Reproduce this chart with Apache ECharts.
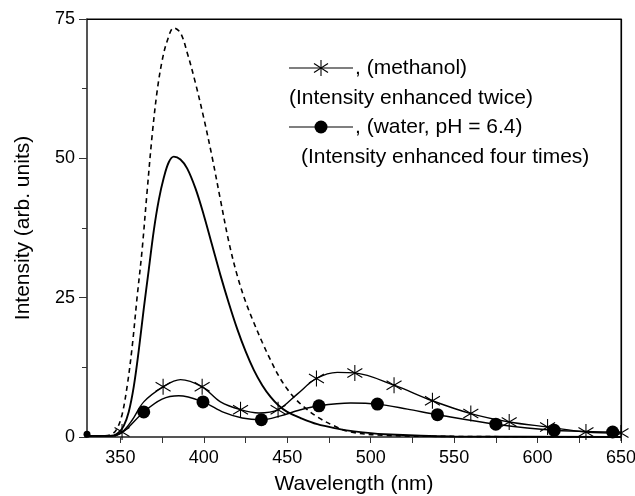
<!DOCTYPE html>
<html>
<head>
<meta charset="utf-8">
<script src="https://cdn.jsdelivr.net/npm/echarts@6/dist/echarts.min.js"></script>
<style>
html,body{margin:0;padding:0;background:#fff}
#main{width:635px;height:496px}
</style>
</head>
<body>
<div id="main"></div>
<script>
// emission spectra
var dashWl  = [330, 340, 345, 348, 351, 354, 357, 360, 363, 366, 369, 372, 375, 378, 382, 386, 390, 395, 400, 405, 410, 415, 420, 425, 430, 435, 440, 445, 450, 455, 460, 468, 478, 488, 508, 550, 650];
var dashVal = [0.2, 0.2, 0.5, 1.5, 4, 9, 16, 25, 33.5, 44, 54, 62, 67.5, 71, 73.4, 72.5, 69, 63.5, 57.2, 50.2, 42.5, 35, 29, 24.3, 20.5, 17, 13.8, 10.9, 8.6, 6.8, 5.4, 3.6, 2, 0.9, 0.3, 0.1, 0];

var solidWl  = [330, 340, 346, 349, 352, 355, 358, 361, 364, 367, 370, 373, 376, 379, 382, 386, 390, 395, 400, 405, 410, 415, 420, 425, 430, 435, 440, 445, 450, 458, 468, 480, 490, 508, 550, 650];
var solidVal = [0.2, 0.2, 0.3, 0.8, 2, 4.5, 9, 15.5, 23, 30, 37, 42.5, 46.5, 49.3, 50.3, 49.8, 48.2, 44.6, 39.8, 34.4, 29, 24, 19.4, 15.4, 12, 9.3, 7.2, 5.6, 4.5, 3.4, 2.3, 1.5, 1.0, 0.5, 0.1, 0];

// methanol (x2), line + star markers
var methWl  = [330, 345, 351, 357, 364, 375.6, 386, 399, 410, 422, 433, 444.5, 456, 467.5, 480, 490.5, 514, 537, 560, 583, 606, 629, 650];
var methVal = [0.2, 0.2, 0.9, 3, 6.3, 9.0, 10.3, 9.0, 6.3, 4.9, 4.3, 4.9, 7.7, 10.5, 11.6, 11.5, 9.3, 6.5, 4.2, 2.7, 1.8, 0.9, 0.7];
var methMkWl  = [351, 375.6, 399, 422, 444.5, 467.5, 490.5, 514, 537, 560, 583, 606, 629, 650];
var methMkVal = [0.9, 9.0, 9.0, 4.9, 4.9, 10.5, 11.5, 9.3, 6.5, 4.2, 2.7, 1.8, 0.9, 0.7];

// water pH 6.4 (x4), line + circle markers
var waterWl  = [330, 345, 352, 364, 375, 385, 399.5, 412, 423, 434.5, 446, 457, 469, 488, 504, 522, 540, 575, 610, 645, 650];
var waterVal = [0.2, 0.2, 1, 4.5, 6.8, 7.4, 6.3, 4.4, 3.4, 3.1, 3.8, 4.8, 5.6, 6.1, 5.9, 5, 4.0, 2.3, 1.2, 0.9, 0.85];
var waterMkWl  = [330, 364, 399.5, 434.5, 469, 504, 540, 575, 610, 645];
var waterMkVal = [0.5, 4.5, 6.3, 3.1, 5.6, 5.9, 4.0, 2.3, 1.2, 0.9];

var xTicks = [350, 375, 400, 425, 450, 475, 500, 525, 550, 575, 600, 625, 650];
var xLabels = [350, 400, 450, 500, 550, 600, 650];

function zip(a, b) {
    return a.map(function (v, i) { return [v, b[i]]; });
}

var FONT = 'Liberation Sans';
var star = 'path://M0,-8L0,8M-7,-4.5L7,4.5M-7,4.5L7,-4.5';

var myChart = echarts.init(document.getElementById('main'));

function curve(data, width, dash) {
    return {
        type: 'line', smooth: 0.35, showSymbol: false, symbol: 'none',
        data: data,
        lineStyle: { color: '#000', width: width, type: dash || 'solid' }
    };
}

// plain frame line for the top and right sides
var frame = {
    axisLine: { show: true, onZero: false, lineStyle: { color: '#000', width: 1.2 } },
    axisTick: { show: false }, axisLabel: { show: false }, splitLine: { show: false }
};

// the first water point sits in the corner and is mostly hidden
var waterMarks = zip(waterMkWl, waterMkVal).map(function (p, i) {
    return i === 0 ? { value: p, symbolSize: 7 } : p;
});

var option = {
    animation: false,
    backgroundColor: '#fff',
    grid: {
        left: 87, right: 14, top: 19, bottom: 59,
        outerBoundsMode: 'none',
        show: true, borderColor: '#000', borderWidth: 1
    },
    xAxis: [{
        type: 'value', min: 330, max: 650,
        name: 'Wavelength (nm)', nameLocation: 'middle', nameGap: 37,
        nameTextStyle: { fontFamily: FONT, fontSize: 21, color: '#000' },
        axisLine: { onZero: false, lineStyle: { color: '#555', width: 2 } },
        axisTick: { customValues: xTicks, length: 6, lineStyle: { color: '#333' } },
        axisLabel: { customValues: xLabels, fontFamily: FONT, fontSize: 18, color: '#000', margin: 12 },
        splitLine: { show: false }
    }, Object.assign({ type: 'value', min: 330, max: 650, position: 'top' }, frame)],
    yAxis: [{
        type: 'value', min: 0, max: 75, interval: 25,
        name: 'Intensity (arb. units)', nameLocation: 'middle', nameGap: 53,
        nameTextStyle: { fontFamily: FONT, fontSize: 21, color: '#000' },
        axisLine: { show: true, onZero: false, lineStyle: { color: '#555', width: 2 } },
        axisTick: { length: 8, lineStyle: { color: '#333' } },
        minorTick: { show: true, splitNumber: 2, length: 5, lineStyle: { color: '#333' } },
        axisLabel: { fontFamily: FONT, fontSize: 18, color: '#000', margin: 12 },
        splitLine: { show: false }
    }, Object.assign({ type: 'value', min: 0, max: 75, position: 'right' }, frame)],
    series: [
        curve(zip(dashWl, dashVal), 1.6, [5, 4]),
        curve(zip(solidWl, solidVal), 1.9),
        curve(zip(methWl, methVal), 1.4),
        {
            type: 'scatter', symbol: star, symbolSize: [15, 16],
            data: zip(methMkWl, methMkVal),
            itemStyle: { color: 'none', borderColor: '#000', borderWidth: 1.1, opacity: 1 }
        },
        curve(zip(waterWl, waterVal), 1.4),
        {
            type: 'scatter', symbol: 'circle', symbolSize: 13,
            data: waterMarks,
            itemStyle: { color: '#000', opacity: 1 }
        }
    ],
    graphic: [
        // legend row 1
        { type: 'line', shape: { x1: 289, y1: 68, x2: 353, y2: 68 }, style: { stroke: '#000', lineWidth: 1.2 } },
        { type: 'line', shape: { x1: 321, y1: 60, x2: 321, y2: 76 }, style: { stroke: '#000', lineWidth: 1.1 } },
        { type: 'line', shape: { x1: 314, y1: 63.5, x2: 328, y2: 72.5 }, style: { stroke: '#000', lineWidth: 1.1 } },
        { type: 'line', shape: { x1: 314, y1: 72.5, x2: 328, y2: 63.5 }, style: { stroke: '#000', lineWidth: 1.1 } },
        { type: 'text', x: 355, y: 68, style: { text: ', (methanol)', fontFamily: FONT, fontSize: 21, fill: '#000', verticalAlign: 'middle' } },
        { type: 'text', x: 289, y: 98, style: { text: '(Intensity enhanced twice)', fontFamily: FONT, fontSize: 21, fill: '#000', verticalAlign: 'middle' } },
        // legend row 2
        { type: 'line', shape: { x1: 289, y1: 127, x2: 353, y2: 127 }, style: { stroke: '#000', lineWidth: 1.2 } },
        { type: 'circle', shape: { cx: 321, cy: 127, r: 6.5 }, style: { fill: '#000' } },
        { type: 'text', x: 355, y: 127, style: { text: ', (water, pH = 6.4)', fontFamily: FONT, fontSize: 21, fill: '#000', verticalAlign: 'middle' } },
        { type: 'text', x: 301, y: 157, style: { text: '(Intensity enhanced four times)', fontFamily: FONT, fontSize: 21, fill: '#000', verticalAlign: 'middle' } }
    ]
};
myChart.setOption(option);
window.onresize = myChart.resize;
</script>
</body>
</html>
